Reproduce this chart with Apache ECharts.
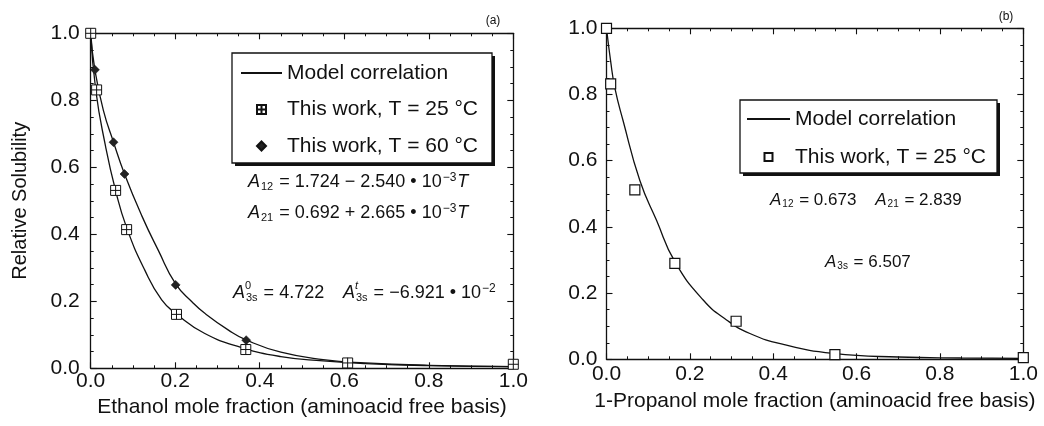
<!DOCTYPE html>
<html>
<head>
<meta charset="utf-8">
<script src="https://cdn.jsdelivr.net/npm/echarts@6/dist/echarts.min.js"></script>
<style>
html,body{margin:0;padding:0;background:#fff;}
#c{width:1044px;height:426px;}
</style>
</head>
<body>
<div id="c"></div>
<script>
// ---- Panel (a): ethanol ----
const ethX25 = [0, 0.014, 0.059, 0.085, 0.203, 0.367, 0.608, 1.0];
const ethY25 = [1.0, 0.831, 0.531, 0.414, 0.161, 0.056, 0.016, 0.012];
const ethX60 = [0, 0.010, 0.054, 0.080, 0.201, 0.368, 0.608, 1.0];
const ethY60 = [1.0, 0.891, 0.675, 0.580, 0.249, 0.084, 0.018, 0.012];
const ethModelX25 = [0, 0.012, 0.034, 0.059, 0.085, 0.128, 0.168, 0.203, 0.27, 0.357, 0.45, 0.55, 0.65, 0.8, 1.0];
const ethModelY25 = [1.0, 0.83, 0.67, 0.53, 0.42, 0.293, 0.204, 0.162, 0.104, 0.062, 0.035, 0.022, 0.014, 0.008, 0.005];
const ethModelX60 = [0, 0.010, 0.030, 0.054, 0.080, 0.121, 0.160, 0.201, 0.24, 0.27, 0.326, 0.369, 0.45, 0.55, 0.65, 0.8, 1.0];
const ethModelY60 = [1.0, 0.89, 0.77, 0.675, 0.58, 0.455, 0.352, 0.252, 0.198, 0.164, 0.114, 0.084, 0.048, 0.026, 0.016, 0.009, 0.005];

// ---- Panel (b): 1-propanol ----
const proX25 = [0, 0.010, 0.068, 0.164, 0.311, 0.548, 1.0];
const proY25 = [1.0, 0.832, 0.512, 0.290, 0.115, 0.014, 0.005];
const proModelX = [0, 0.01, 0.02, 0.04, 0.08, 0.12, 0.164, 0.232, 0.288, 0.344, 0.424, 0.544, 0.7, 0.85, 1.0];
const proModelY = [1.0, 0.9, 0.82, 0.72, 0.54, 0.42, 0.295, 0.179, 0.119, 0.078, 0.045, 0.018, 0.007, 0.004, 0.003];

// ---- Texts ----
const xNameA = 'Ethanol mole fraction (aminoacid free basis)';
const xNameB = '1-Propanol mole fraction (aminoacid free basis)';
const yNameA = 'Relative Solubility';
const legModel = 'Model correlation';
const leg25 = 'This work, T = 25 °C';
const leg60 = 'This work, T = 60 °C';

const FONT = '"Liberation Sans", Arial, Helvetica, sans-serif';
const pair = (xs, ys) => xs.map((x, i) => [x, ys[i]]);

function makeAxes(gridIndex, labelMargins) {
  const common = {
    type: 'value', min: 0, max: 1, interval: 0.2, gridIndex: gridIndex,
    axisLine: { show: true, onZero: false, lineStyle: { color: '#111', width: 1.3 } },
    axisTick: { show: true, inside: true, length: 6, lineStyle: { color: '#111', width: 1.1 } },
    minorTick: { show: true, splitNumber: 4, length: 3, lineStyle: { color: '#111', width: 1 } },
    splitLine: { show: false },
    axisLabel: { show: true, color: '#111', fontSize: 21, fontFamily: FONT, formatter: v => v.toFixed(1) }
  };
  const xMain = Object.assign({}, common, { position: 'bottom',
    axisLabel: Object.assign({}, common.axisLabel, { margin: labelMargins.x }) });
  const xTop = Object.assign({}, common, { position: 'top', axisLabel: { show: false } });
  const yMain = Object.assign({}, common, { position: 'left',
    axisLabel: Object.assign({}, common.axisLabel, { margin: labelMargins.y }) });
  const yRight = Object.assign({}, common, { position: 'right', axisLabel: { show: false } });
  return { x: [xMain, xTop], y: [yMain, yRight] };
}

const axA = makeAxes(0, { x: 2, y: 11 });
const axB = makeAxes(1, { x: 4, y: 9 });
axA.x[0].name = xNameA; axA.x[0].nameLocation = 'middle'; axA.x[0].nameGap = 28;
axA.x[0].nameTextStyle = { fontSize: 21, color: '#111', fontFamily: FONT };
axA.y[0].name = yNameA; axA.y[0].nameLocation = 'middle'; axA.y[0].nameGap = 60;
axA.y[0].nameTextStyle = { fontSize: 20, color: '#111', fontFamily: FONT };
axB.x[0].name = xNameB; axB.x[0].nameLocation = 'middle'; axB.x[0].nameGap = 31;
axB.x[0].nameTextStyle = { fontSize: 21, color: '#111', fontFamily: FONT };

const sqPlus = 'path://M0,0L10,0L10,10L0,10Z M5,0L5,10 M0,5L10,5';
const sqPath = 'path://M0,0L10,0L10,10L0,10Z';
const diaPath = 'path://M5,0L10,5L5,10L0,5Z';
const lineStyleModel = { color: '#111', width: 1.3 };
const noDot = { color: 'rgba(0,0,0,0)' };

const rich = {
  i: { fontStyle: 'italic', fontSize: 18, fontFamily: FONT },
  sub: { fontSize: 11, fontFamily: FONT, padding: [9, 1, 0, 1] },
  sup: { fontSize: 12, fontFamily: FONT, padding: [0, 1, 9, 1] }
};
const richB = {
  i: { fontStyle: 'italic', fontSize: 17, fontFamily: FONT },
  sub: { fontSize: 10, fontFamily: FONT, padding: [9, 1, 0, 1] }
};
function txt(x, y, text, size, r, styleExtra) {
  return {
    type: 'text', x: x, y: y, silent: true, z: 8,
    style: Object.assign({ text: text, fontSize: size, fontFamily: FONT, fill: '#111', verticalAlign: 'middle', rich: r }, styleExtra || {})
  };
}
function legendBox(x, y, w, h) {
  return [
    { type: 'rect', silent: true, z: 5, shape: { x: x + 3, y: y + 3, width: w, height: h }, style: { fill: '#111' } },
    { type: 'rect', silent: true, z: 6, shape: { x: x, y: y, width: w, height: h }, style: { fill: '#fff', stroke: '#111', lineWidth: 1.3 } }
  ];
}

const option = {
  backgroundColor: '#fff',
  animation: false,
  grid: [
    { left: 90.7, top: 33.3, width: 422.6, height: 335, outerBoundsMode: 'none' },
    { left: 606.5, top: 28.3, width: 416.8, height: 331, outerBoundsMode: 'none' }
  ],
  xAxis: [axA.x[0], axA.x[1], axB.x[0], axB.x[1]],
  yAxis: [axA.y[0], axA.y[1], axB.y[0], axB.y[1]],
  legend: [
    {
      left: 232, top: 53, orient: 'vertical', selectedMode: false, z: 10,
      padding: [9, 12, 9, 8], itemGap: 14.5, itemWidth: 41, itemHeight: 9,
      textStyle: { fontSize: 21, color: '#111', fontFamily: FONT, lineHeight: 22 },
      data: [legModel, leg25, { name: leg60, icon: diaPath }]
    },
    {
      left: 740, top: 100, orient: 'vertical', selectedMode: false, z: 10,
      padding: [8, 10, 7, 6], itemGap: 16, itemWidth: 43, itemHeight: 8,
      textStyle: { fontSize: 21, color: '#111', fontFamily: FONT, lineHeight: 22 },
      data: [legModel, { name: leg25, icon: sqPath }]
    }
  ],
  series: [
    { name: legModel, type: 'line', xAxisIndex: 0, yAxisIndex: 0, data: pair(ethModelX25, ethModelY25),
      smooth: 0.5, symbol: 'none', itemStyle: noDot, lineStyle: lineStyleModel, z: 2 },
    { name: legModel, type: 'line', xAxisIndex: 0, yAxisIndex: 0, data: pair(ethModelX60, ethModelY60),
      smooth: 0.5, symbol: 'none', itemStyle: noDot, lineStyle: lineStyleModel, z: 2 },
    { name: leg25, type: 'scatter', xAxisIndex: 0, yAxisIndex: 0, data: pair(ethX25, ethY25),
      symbol: sqPlus, symbolSize: 10, symbolKeepAspect: true, clip: false,
      itemStyle: { color: '#fff', borderColor: '#111', borderWidth: 1, opacity: 1 }, z: 4 },
    { name: leg60, type: 'scatter', xAxisIndex: 0, yAxisIndex: 0, data: pair(ethX60, ethY60),
      symbol: 'diamond', symbolSize: 9, symbolKeepAspect: true, clip: false,
      itemStyle: { color: '#222', borderColor: '#111', borderWidth: 0.5, opacity: 1 }, z: 3 },
    { name: legModel, type: 'line', xAxisIndex: 2, yAxisIndex: 2, data: pair(proModelX, proModelY),
      smooth: 0.5, symbol: 'none', itemStyle: noDot, lineStyle: lineStyleModel, z: 2 },
    { name: leg25, type: 'scatter', xAxisIndex: 2, yAxisIndex: 2, data: pair(proX25, proY25),
      symbol: 'rect', symbolSize: 10, clip: false,
      itemStyle: { color: '#fff', borderColor: '#111', borderWidth: 1.2, opacity: 1 }, z: 4 }
  ],
  graphic: [].concat(
    legendBox(232, 53, 260, 110),
    legendBox(740, 100, 257, 73),
    [
      txt(493, 21, '(a)', 12, null, { align: 'center' }),
      txt(1006, 17, '(b)', 12, null, { align: 'center' }),
      txt(248, 182, '{i|A}{sub|12} = 1.724 − 2.540 • 10{sup|−3}{i|T}', 18, rich),
      txt(248, 213, '{i|A}{sub|21} = 0.692 + 2.665 • 10{sup|−3}{i|T}', 18, rich),
      txt(233, 293, '{i|A}{sub|3s} = 4.722', 18, rich),
      txt(245, 286, '0', 11, null),
      txt(343, 293, '{i|A}{sub|3s} = −6.921 • 10{sup|−2}', 18, rich),
      txt(355, 286, 't', 11, null, { fontStyle: 'italic' }),
      txt(770, 200, '{i|A}{sub|12} = 0.673    {i|A}{sub|21} = 2.839', 17, richB),
      txt(825, 262, '{i|A}{sub|3s} = 6.507', 17, richB)
    ]
  )
};

const chart = echarts.init(document.getElementById('c'), null, { renderer: 'canvas' });
chart.setOption(option);
</script>
</body>
</html>
